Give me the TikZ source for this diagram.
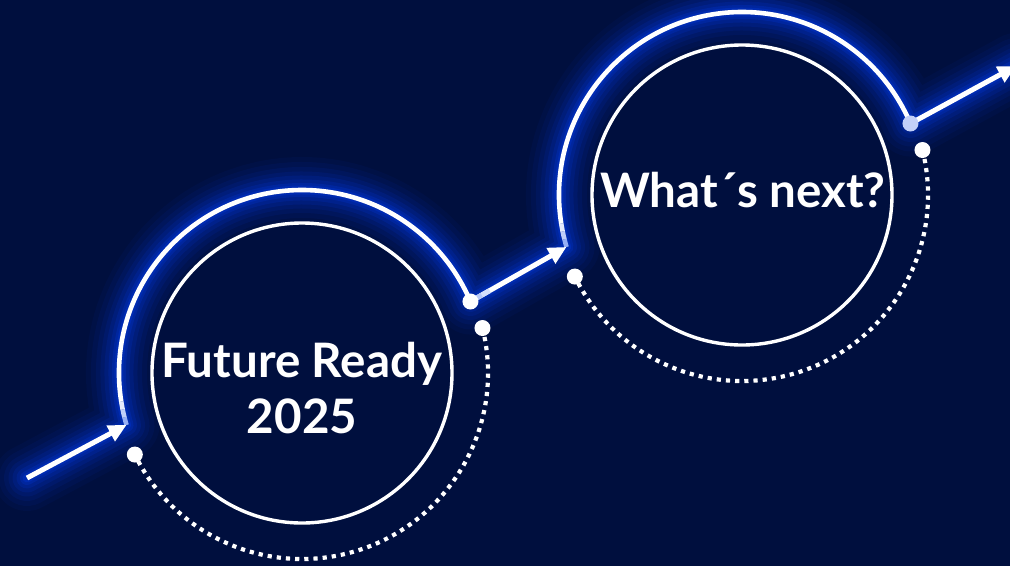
\documentclass[tikz,border=0pt]{standalone}
\usepackage{fontspec}
\setmainfont{Lato}
\usetikzlibrary{arrows.meta,calc}
\definecolor{bg}{RGB}{0,15,62}
\definecolor{glow}{RGB}{0,55,220}
\definecolor{paleblue}{RGB}{150,175,245}
\definecolor{dotblue}{RGB}{195,208,248}
\begin{document}
\begin{tikzpicture}[x=1pt,y=-1pt,
  ring/.style={circle, draw=white, line width=3.4pt, minimum size=300pt, inner sep=0pt},
  lbl/.style={text=white, font=\bfseries\fontsize{47.5}{56}\selectfont, align=center, inner sep=0pt},
  enddot/.style={circle, fill=white, minimum size=16pt, inner sep=0pt},
  arcline/.style={white, line width=4.6pt},
  dotline/.style={white, line width=4.2pt, dash pattern=on 4.2pt off 5pt},
  arrowline/.style={white, line width=5pt, -{Triangle[length=18pt,width=17pt]}},
]
\fill[bg] (0,0) rectangle (1010,566);
\useasboundingbox (0,0) rectangle (1010,566);

\coordinate (C1) at (302,373);
\coordinate (C2) at (742,195);
\coordinate (a0) at (27,478);
\coordinate (s1) at ($(C1)+(163.5:183)$);
\coordinate (e1) at ($(C1)+(337:183)$);
\coordinate (s2) at ($(C2)+(163.5:183)$);
\coordinate (e2) at ($(C2)+(337:183)$);
\coordinate (a3) at (1016,66);

% glow
\foreach \w/\o in {66/0.05, 56/0.07, 46/0.09, 37/0.11, 29/0.14, 21/0.18, 14/0.24, 9/0.32} {
  \draw[glow, line width=\w pt, opacity=\o, line join=round, line cap=round]
    (a0) -- (s1) arc[start angle=163.5, end angle=337, radius=183]
    -- (s2) arc[start angle=163.5, end angle=337, radius=183] -- (a3);
}

% circles
\node[ring] (c1) at (C1) {};
\node[ring] (c2) at (C2) {};
\node[lbl] (t1) at (302,388) {Future Ready\\2025};
\node[lbl] (t2) at (743,190) {What´s next?};

% solid arcs with fading end
\foreach \C in {C1,C2} {
  \draw[arcline, color=paleblue] ($(\C)+(163.5:183)$) arc[start angle=163.5, end angle=166, radius=183];
  \draw[arcline, color=white!40!paleblue] ($(\C)+(166:183)$) arc[start angle=166, end angle=168.5, radius=183];
  \draw[arcline, color=white!75!paleblue] ($(\C)+(168.5:183)$) arc[start angle=168.5, end angle=171, radius=183];
  \draw[arcline] ($(\C)+(171:183)$) arc[start angle=171, end angle=337, radius=183];
}

% dotted arcs
\draw[dotline] ($(C1)+(-14:186)$) arc[start angle=-14, end angle=154, radius=186];
\draw[dotline] ($(C2)+(-14:186)$) arc[start angle=-14, end angle=154, radius=186];

% arrows
\draw[arrowline] (a0) -- (s1);
\draw[arrowline] (e1) -- (s2);
\draw[white!30!paleblue, line width=5pt] (e1) -- ($(e1)!0.12!(s2)$);
\draw[white!60!paleblue, line width=5pt] ($(e1)!0.12!(s2)$) -- ($(e1)!0.2!(s2)$);
\draw[arrowline] (e2) -- (a3);

% end dots
\node[enddot] (d1) at (e1) {};
\node[enddot, fill=dotblue] (d2) at (e2) {};
\node[enddot] (d3) at ($(C1)+(154:186)$) {};
\node[enddot] (d4) at ($(C1)+(-14:186)$) {};
\node[enddot] (d5) at ($(C2)+(154:186)$) {};
\node[enddot] (d6) at ($(C2)+(-14:186)$) {};
\end{tikzpicture}
\end{document}
